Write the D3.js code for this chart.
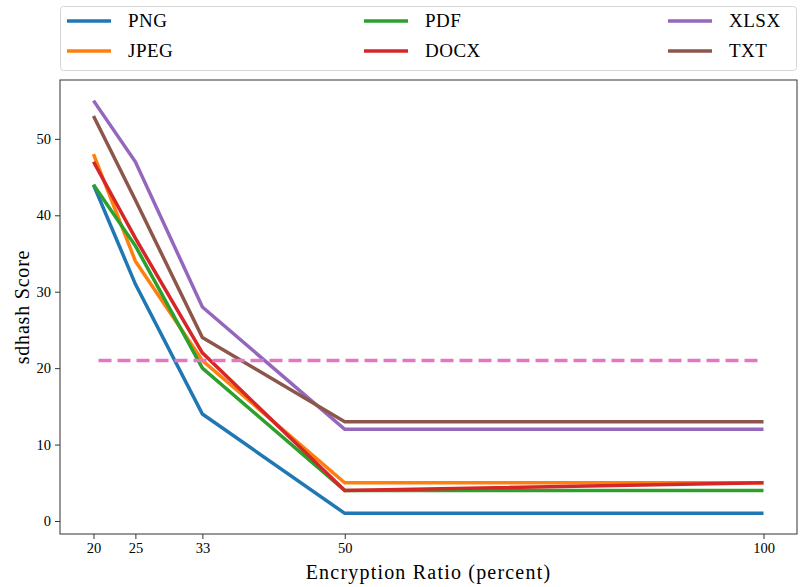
<!DOCTYPE html>
<meta charset="utf-8">
<style>
body { margin: 0; background: #fff; }
text { font-family: "Liberation Serif", "DejaVu Serif", serif; fill: #000; }
.axis path, .axis line { stroke: #333; }
.series { fill: none; stroke-width: 3.5px; stroke-linejoin: miter; }
</style>
<body>
<script src="https://d3js.org/d3.v7.min.js"></script>
<script>

// data
var ratios = [20, 25, 33, 50, 100];
var png  = [44, 31, 14, 1, 1];
var jpeg = [48, 34, 21, 5, 5];
var pdf  = [44, 36, 20, 4, 4];
var docx = [47, 37, 22, 4, 5];
var xlsx = [55, 47, 28, 12, 12];
var txt  = [53, 42, 24, 13, 13];
var threshold = 21;
var seriesNames = ["PNG", "JPEG", "PDF", "DOCX", "XLSX", "TXT"];
var seriesColors = ["#1f77b4", "#ff7f0e", "#2ca02c", "#d62728", "#9467bd", "#8c564b"];
var yTicks = [0, 10, 20, 30, 40, 50];

var allSeries = [png, jpeg, pdf, docx, xlsx, txt];

var W = 801, H = 587;
var margin = {top: 80, right: 4, bottom: 53, left: 60},
    width = W - margin.left - margin.right,
    height = H - margin.top - margin.bottom;

var svg = d3.select("body").append("svg")
    .attr("width", W)
    .attr("height", H);

var g = svg.append("g")
    .attr("transform", "translate(" + margin.left + "," + margin.top + ")");

// 5% padding like matplotlib
var x = d3.scaleLinear().domain([16, 104]).range([0, width]);
var y = d3.scaleLinear().domain([-1.7, 57.7]).range([height, 0]);

var line = d3.line()
    .x(function(d, i) { return x(ratios[i]); })
    .y(function(d) { return y(d); });

allSeries.forEach(function(s, k) {
  g.append("path")
    .datum(s)
    .attr("class", "series")
    .style("stroke", seriesColors[k])
    .attr("d", line);
});

// dashed threshold
g.append("line")
  .attr("x1", x(ratios[0]))
  .attr("x2", x(ratios[ratios.length - 1]))
  .attr("y1", y(threshold))
  .attr("y2", y(threshold))
  .style("stroke", "#e377c2")
  .style("stroke-width", 3.5)
  .style("stroke-dasharray", "13,6")
  .style("stroke-dashoffset", "-5");

// frame
g.append("rect")
  .attr("width", width)
  .attr("height", height)
  .style("fill", "none")
  .style("stroke", "#333")
  .style("stroke-width", 1);

// axes
var xAxis = g.append("g")
  .attr("class", "axis")
  .attr("transform", "translate(0," + height + ")")
  .call(d3.axisBottom(x).tickValues(ratios).tickSize(5).tickPadding(4));
xAxis.select(".domain").remove();
xAxis.selectAll("text").style("font-size", "14.5px");

var yAxis = g.append("g")
  .attr("class", "axis")
  .call(d3.axisLeft(y).tickValues(yTicks).tickSize(5).tickPadding(4));
yAxis.select(".domain").remove();
yAxis.selectAll("text").style("font-size", "14.5px");

// axis labels
svg.append("text")
  .attr("text-anchor", "middle")
  .attr("x", margin.left + width / 2)
  .attr("y", 579)
  .style("font-size", "20px")
  .style("letter-spacing", "1.2px")
  .text("Encryption Ratio (percent)");

svg.append("text")
  .attr("text-anchor", "middle")
  .attr("transform", "translate(29," + (margin.top + height / 2) + ")rotate(-90)")
  .style("font-size", "20px")
  .style("letter-spacing", "0.8px")
  .text("sdhash Score");

// legend
var legend = svg.append("g");
legend.append("rect")
  .attr("x", 60.5).attr("y", 6.5)
  .attr("width", 736).attr("height", 64)
  .attr("rx", 3)
  .style("fill", "#fff")
  .style("stroke", "#d6d6d6")
  .style("stroke-width", 1);

var colX = [67, 364, 668];
seriesNames.forEach(function(name, k) {
  var cx = colX[Math.floor(k / 2)];
  var cy = 21 + (k % 2) * 30;
  legend.append("line")
    .attr("x1", cx).attr("x2", cx + 44)
    .attr("y1", cy).attr("y2", cy)
    .style("stroke", seriesColors[k])
    .style("stroke-width", 3.5);
  legend.append("text")
    .attr("x", cx + 61)
    .attr("y", cy + 6)
    .style("font-size", "19px")
    .style("letter-spacing", "0.5px")
    .text(name);
});

</script>
</body>
